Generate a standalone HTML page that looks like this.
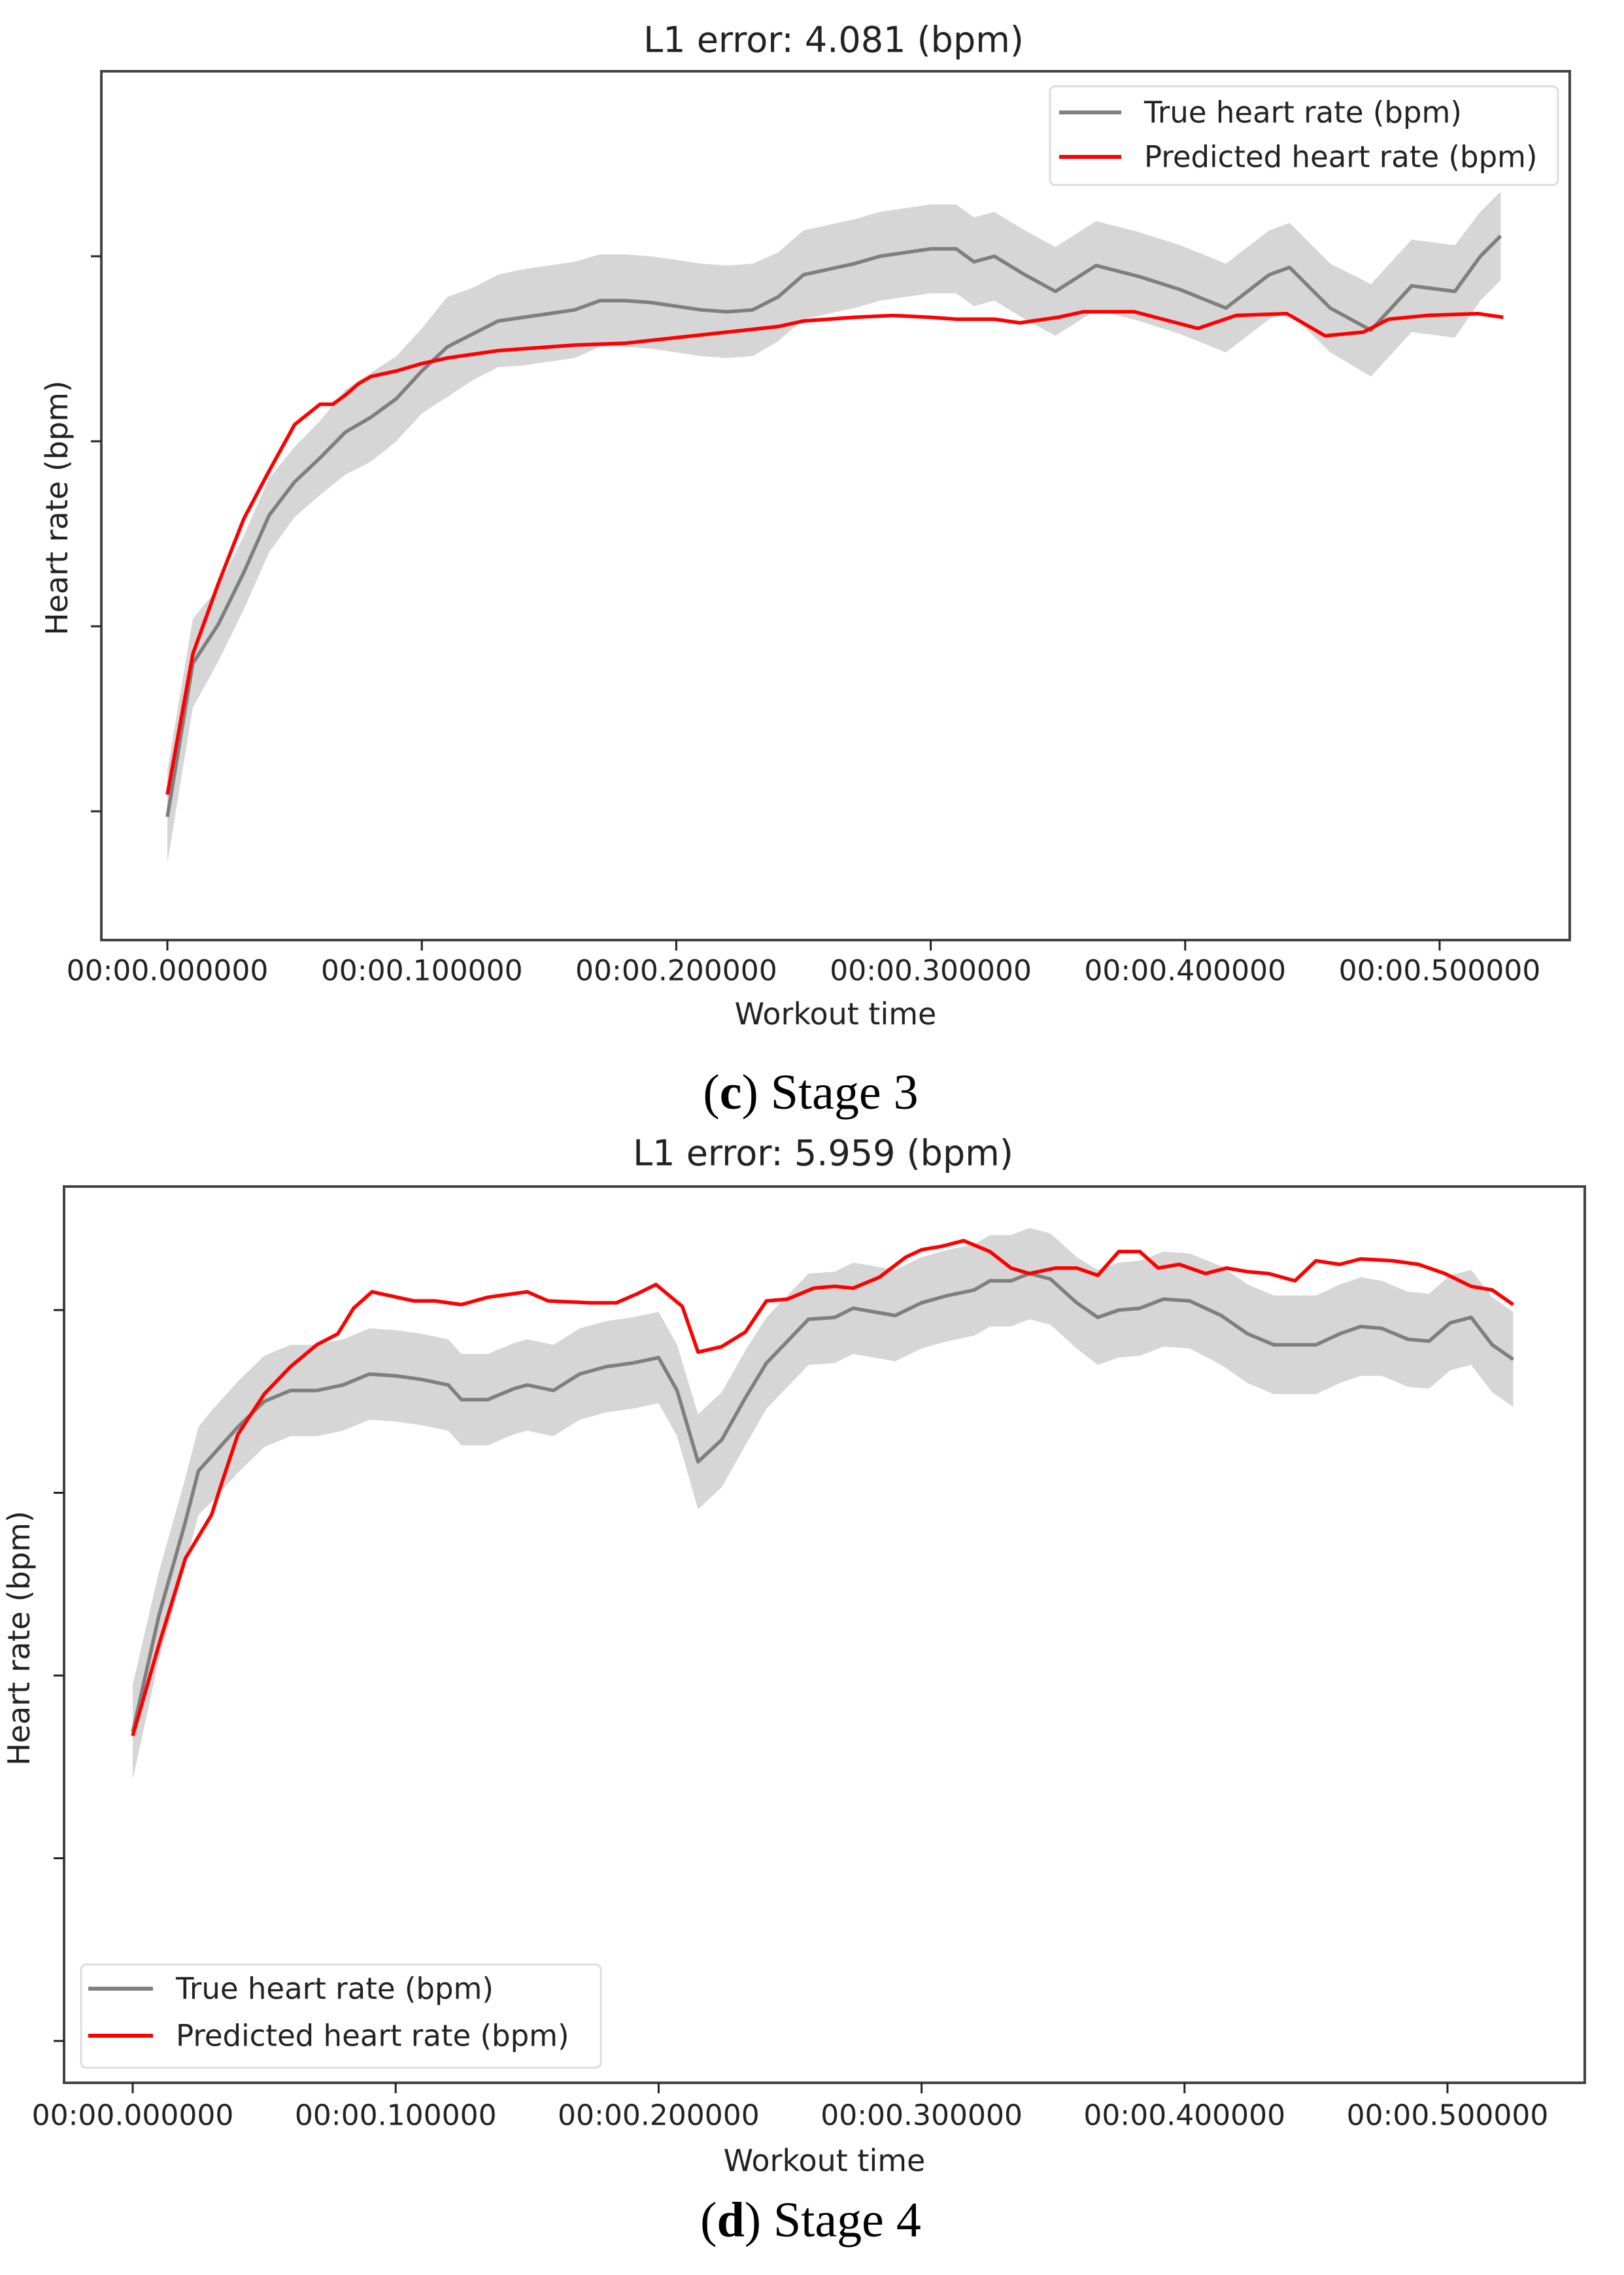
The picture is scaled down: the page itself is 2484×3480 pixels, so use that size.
<!DOCTYPE html>
<html><head><meta charset="utf-8">
<style>
html,body{margin:0;padding:0;background:#fff;}
svg{display:block;}
text{font-family:"DejaVu Sans","Liberation Sans",sans-serif;fill:#222;}
.cap{font-family:"Liberation Serif",serif;fill:#000;}
</style></head>
<body>
<svg id="fig" width="2484" height="3480" viewBox="0 0 2484 3480" xmlns="http://www.w3.org/2000/svg">
<rect width="2484" height="3480" fill="#fff"/>
<g id="c1"></g>
<g id="c2"></g>
</svg>
<script>
// ---------- Stage 3 data ----------
const s3TrueT = [0,0.01,0.02,0.03,0.04,0.05,0.06,0.07,0.08,0.09,0.10,0.11,0.12,0.13,0.14,0.15,0.16,0.17,0.18,0.19,0.20,0.21,0.22,0.23,0.24,0.25,0.26,0.27,0.28,0.29,0.30,0.31,0.317,0.325,0.337,0.349,0.365,0.382,0.398,0.416,0.433,0.441,0.457,0.473,0.489,0.506,0.516,0.524];
const s3True = [99.7,108.0,110.1,112.9,116.0,117.8,119.1,120.5,121.3,122.3,123.8,125.1,125.8,126.5,126.7,126.9,127.1,127.6,127.6,127.5,127.3,127.1,127.0,127.1,127.8,129.0,129.3,129.6,130.0,130.2,130.4,130.4,129.7,130.0,129.0,128.1,129.5,128.9,128.2,127.2,129.0,129.4,127.2,126.0,128.4,128.1,130.0,131.1];
const s3Sd = [2.5,2.4,2.0,2.0,2.0,1.9,2.0,2.3,2.4,2.3,2.3,2.7,2.5,2.5,2.6,2.6,2.6,2.5,2.5,2.5,2.5,2.5,2.5,2.5,2.4,2.4,2.4,2.4,2.4,2.4,2.4,2.4,2.4,2.4,2.4,2.4,2.4,2.4,2.4,2.4,2.4,2.4,2.4,2.5,2.5,2.5,2.4,2.4];
const s3PredT = [0,0.01,0.02,0.03,0.04,0.05,0.06,0.065,0.07,0.075,0.08,0.09,0.10,0.11,0.12,0.13,0.14,0.16,0.18,0.20,0.22,0.24,0.25,0.27,0.285,0.30,0.31,0.325,0.335,0.35,0.36,0.38,0.405,0.42,0.44,0.455,0.47,0.48,0.495,0.515,0.525];
const s3Pred = [100.9,108.5,112.3,115.8,118.4,120.9,122.0,122.0,122.5,123.1,123.5,123.8,124.2,124.5,124.7,124.9,125.0,125.2,125.3,125.6,125.9,126.2,126.5,126.7,126.8,126.7,126.6,126.6,126.4,126.7,127.0,127.0,126.1,126.8,126.9,125.7,125.9,126.6,126.8,126.9,126.7];
const s3YTicks = [100,110,120,130];
const xTickVals = [0,0.1,0.2,0.3,0.4,0.5];
const xTickLabels = ["00:00.000000","00:00.100000","00:00.200000","00:00.300000","00:00.400000","00:00.500000"];

// ---------- Stage 4 data ----------
const s4TrueT = [0,0.01,0.02,0.025,0.03,0.04,0.05,0.06,0.07,0.08,0.09,0.10,0.11,0.12,0.125,0.135,0.145,0.15,0.16,0.17,0.18,0.19,0.20,0.207,0.215,0.224,0.233,0.241,0.257,0.267,0.274,0.29,0.30,0.31,0.32,0.326,0.334,0.341,0.349,0.359,0.367,0.375,0.383,0.392,0.402,0.414,0.424,0.434,0.45,0.459,0.467,0.475,0.485,0.493,0.501,0.509,0.517,0.525];
const s4True = [96.9,103.3,108.4,111.2,112.0,113.6,115.0,115.6,115.6,115.9,116.5,116.4,116.2,115.9,115.1,115.1,115.7,115.9,115.6,116.5,116.9,117.1,117.4,115.6,111.7,112.9,115.2,117.1,119.5,119.6,120.1,119.7,120.4,120.8,121.1,121.6,121.6,122.0,121.7,120.4,119.6,120.0,120.1,120.6,120.5,119.7,118.7,118.1,118.1,118.7,119.1,119.0,118.4,118.3,119.3,119.6,118.1,117.3];
const s4Sd = [2.6,2.4,2.4,2.4,2.5,2.5,2.5,2.5,2.5,2.5,2.5,2.5,2.5,2.5,2.5,2.5,2.5,2.5,2.5,2.5,2.5,2.5,2.5,2.5,2.6,2.6,2.6,2.5,2.5,2.5,2.5,2.5,2.5,2.5,2.5,2.5,2.5,2.5,2.5,2.5,2.6,2.6,2.6,2.6,2.6,2.7,2.7,2.7,2.7,2.7,2.7,2.6,2.6,2.6,2.6,2.6,2.6,2.6];
const s4PredT = [0,0.01,0.02,0.03,0.034,0.04,0.05,0.06,0.07,0.078,0.084,0.091,0.107,0.115,0.125,0.135,0.15,0.158,0.174,0.184,0.192,0.199,0.209,0.215,0.224,0.233,0.241,0.249,0.259,0.267,0.274,0.284,0.294,0.30,0.308,0.316,0.326,0.334,0.341,0.351,0.359,0.367,0.375,0.383,0.39,0.398,0.408,0.416,0.424,0.432,0.442,0.45,0.459,0.467,0.479,0.489,0.499,0.509,0.517,0.525];
const s4Pred = [96.7,101.7,106.4,108.8,110.6,113.2,115.4,116.9,118.1,118.7,120.1,121.0,120.5,120.5,120.3,120.7,121.0,120.5,120.4,120.4,120.9,121.4,120.2,117.7,118.0,118.8,120.5,120.6,121.2,121.3,121.2,121.8,122.9,123.3,123.5,123.8,123.2,122.3,122.0,122.3,122.3,121.9,123.2,123.2,122.3,122.5,122.0,122.3,122.1,122.0,121.6,122.7,122.5,122.8,122.7,122.5,122.0,121.3,121.1,120.3];
const s4YTicks = [80,90,100,110,120];

const NS = "http://www.w3.org/2000/svg";
function mk(tag, attrs, parent){
  const e = document.createElementNS(NS, tag);
  for (const k in attrs) e.setAttribute(k, attrs[k]);
  parent.appendChild(e);
  return e;
}

function drawChart(g, cfg){
  const L=cfg.left,R=cfg.right,T=cfg.top,B=cfg.bottom;
  const xs = t => cfg.x0 + t*cfg.xPerUnit;
  const ys = v => cfg.yRef - (v-cfg.vRef)*cfg.yPerUnit;
  let pts=[];
  for(let i=0;i<cfg.trueT.length;i++) pts.push(xs(cfg.trueT[i])+","+ys(cfg.trueV[i]+cfg.sd[i]));
  for(let i=cfg.trueT.length-1;i>=0;i--) pts.push(xs(cfg.trueT[i])+","+ys(cfg.trueV[i]-cfg.sd[i]));
  const band = mk("polygon",{points:pts.join(" "),fill:"#d6d6d6"},g);
  
  
  const tl = mk("polyline",{points:cfg.trueT.map((t,i)=>xs(t)+","+ys(cfg.trueV[i])).join(" "),fill:"none",stroke:"#7f7f7f","stroke-width":5.5,"stroke-linejoin":"round"},g);
  
  
  const pl = mk("polyline",{points:cfg.predT.map((t,i)=>xs(t)+","+ys(cfg.predV[i])).join(" "),fill:"none",stroke:"#ff0000","stroke-width":5.5,"stroke-linejoin":"round"},g);
  
  
  const fr = mk("rect",{x:L,y:T,width:R-L,height:B-T,fill:"none",stroke:"#444","stroke-width":4},g);
  
  
  xTickVals.forEach((tv,i)=>{
    const x=xs(tv);
    const tk = mk("line",{x1:x,x2:x,y1:B,y2:B+16,stroke:"#222","stroke-width":3},g);
    
    
    const lb = mk("text",{x:x,y:cfg.xLabY,"font-size":44,"text-anchor":"middle","dominant-baseline":"central"},g);
    lb.textContent = xTickLabels[i];
    
    
  });
  cfg.yTicks.forEach(v=>{
    const y=ys(v);
    const tk = mk("line",{x1:L-16,x2:L,y1:y,y2:y,stroke:"#222","stroke-width":3},g);
    
    
  });
  const ti = mk("text",{x:cfg.titleX,y:cfg.titleY,"font-size":54,"text-anchor":"middle","dominant-baseline":"central"},g);
  ti.textContent = cfg.title;
  
  
  const xl = mk("text",{x:(L+R)/2,y:cfg.xTitleY,"font-size":46,"text-anchor":"middle","dominant-baseline":"central"},g);
  xl.textContent = "Workout time";
  
  
  const yl = mk("text",{x:0,y:0,"font-size":46,"text-anchor":"middle","dominant-baseline":"central",transform:"translate("+cfg.yTitleX+","+cfg.yTitleY+") rotate(-90)"},g);
  yl.textContent = "Heart rate (bpm)";
  
  
  const lg = mk("g",{},g);
  
  
  const lb = cfg.legend;
  mk("rect",{x:lb.x,y:lb.y,width:lb.w,height:lb.h,rx:8,fill:"#fff",stroke:"#dcdcdc","stroke-width":3},lg);
  [["True heart rate (bpm)","#7f7f7f",lb.r1],["Predicted heart rate (bpm)","#ff0000",lb.r2]].forEach(r=>{
    const ln = mk("line",{x1:lb.lx1,x2:lb.lx2,y1:r[2],y2:r[2],stroke:r[1],"stroke-width":6},lg);
    
    
    const t = mk("text",{x:lb.tx,y:r[2],"font-size":45,"dominant-baseline":"central"},lg);
    t.textContent = r[0];
    
    
  });
  const cp = mk("text",{x:cfg.capX,y:cfg.capY,"font-size":76,"text-anchor":"middle","dominant-baseline":"central","class":"cap"},g);
  cp.innerHTML = '(<tspan font-weight="bold">'+cfg.capL+'</tspan>) '+cfg.capT;
  
  
}

drawChart(document.getElementById("c1"),{
  left:155,right:2401,top:109,bottom:1438,
  x0:256,xPerUnit:3892,yRef:1241,vRef:100,yPerUnit:28.3,
  trueT:s3TrueT,trueV:s3True,sd:s3Sd,predT:s3PredT,predV:s3Pred,yTicks:s3YTicks,
  xLabY:1485,title:"L1 error: 4.081 (bpm)",titleX:1275,titleY:61,xTitleY:1551,yTitleX:87,yTitleY:777,
  legend:{x:1606,y:132,w:777,h:151,lx1:1620,lx2:1715,tx:1750,r1:172,r2:240},
  capX:1240,capY:1671,capL:"c",capT:"Stage 3"
});
drawChart(document.getElementById("c2"),{
  left:98,right:2424,top:1815,bottom:3186,
  x0:203,xPerUnit:4022,yRef:2004,vRef:120,yPerUnit:27.95,
  trueT:s4TrueT,trueV:s4True,sd:s4Sd,predT:s4PredT,predV:s4Pred,yTicks:s4YTicks,
  xLabY:3236,title:"L1 error: 5.959 (bpm)",titleX:1259,titleY:1764,xTitleY:3305,yTitleX:29,yTitleY:2506,
  legend:{x:124,y:3005,w:795,h:158,lx1:135,lx2:234,tx:269,r1:3042,r2:3114},
  capX:1240,capY:3396,capL:"d",capT:"Stage 4"
});
</script>
</body></html>
